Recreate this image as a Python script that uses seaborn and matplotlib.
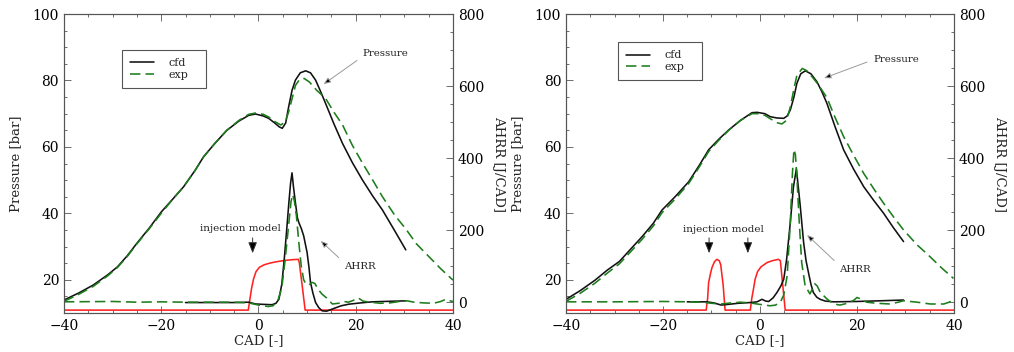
import numpy as np
import pandas as pd
import matplotlib
matplotlib.use("Agg")
import matplotlib.pyplot as plt
from matplotlib.ticker import MultipleLocator
import seaborn as sns

# ---------------- data: left panel ----------------
L_p_cfd_cad = [-40, -37, -34, -31, -29, -27, -25, -22.5, -20, -17.5, -15.4, -13, -11.3, -9, -6.5, -4, -2, -0.6,
               1, 2.1, 3.5, 4.3, 4.9, 5.6, 6.2, 6.9, 7.6, 8.6, 9.7, 10.7, 11.75, 12.8, 13.8, 15.5, 17.3, 19.3, 21.4,
               23.5, 25.5, 28, 30.3]
L_p_cfd = [13.9, 16.0, 18.4, 21.5, 23.9, 27.2, 31.0, 35.5, 40.4, 44.5, 48.0, 53.0, 57.0, 61.0, 65.0, 67.8, 69.5, 69.9,
           69.3, 68.6, 67.0, 66.0, 65.6, 67.2, 72.0, 77.0, 80.1, 82.3, 82.9, 82.3, 80.1, 76.6, 73.1, 67.0, 61.0, 55.3,
           50.0, 45.2, 41.0, 34.8, 29.0]
L_p_exp_cad = [-40, -37, -34, -31, -29, -27, -25, -22.5, -20, -17.5, -15.4, -13, -11.3, -9, -6.5, -4, -2, -0.6,
               1, 2.1, 3.5, 4.6, 5.5, 6.2, 7, 7.6, 8.5, 9.4, 10.5, 12, 13.8, 15.5, 17.3, 19.3, 21.4, 23.5, 25.5,
               28, 30.3, 32.5, 35.1, 37.5, 40]
L_p_exp = [13.5, 15.6, 18.0, 21.2, 23.7, 27.0, 30.8, 35.3, 40.0, 44.5, 48.0, 53.0, 57.0, 61.0, 65.0, 68.0, 69.8, 70.2,
           69.8, 69.0, 67.5, 66.6, 67.5, 70.5, 75.0, 78.5, 80.4, 80.6, 79.5, 77.0, 74.6, 70.5, 66.6, 60.5, 55.1, 50.0,
           45.0, 39.5, 35.3, 30.8, 26.9, 23.3, 19.9]
L_q_cfd_cad = [-15, -10, -5, -2, -0.6, 1, 2.8, 3.6, 4.2, 4.8, 5.3, 5.8, 6.25, 6.6, 6.9, 7.2, 7.6, 8.0, 8.3, 8.8, 9.3,
               10.0, 10.4, 10.7, 11.2, 11.75, 12.4, 13.1, 14, 15.2, 17, 18.6, 21, 23.4, 27, 30.3]
L_q_cfd = [-1, -1, -1, 0, -5, -6, -7, -3, 8, 50, 119, 200, 276, 330, 359, 320, 276, 235, 221, 205, 184,
           138, 95, 55, 25, -1, -15, -24, -25, -19, -10, -5.5, -2, 1, 2.5, 3.7]
L_q_exp_cad = [-40, -30, -25, -20, -15, -10, -5, -2, 0, 2, 3, 4, 4.8, 5.5, 6.25, 6.7, 7.05, 7.4, 7.8, 8.3, 8.8, 9.3,
               9.8, 10.4, 11, 11.6, 12.3, 13.1, 14, 15.2, 16.5, 17.5, 18.5, 19.5, 20.5, 21.5, 23, 25, 27, 29, 30.5,
               32, 34, 36, 37.5, 38.5, 39.3, 40]
L_q_exp = [1, 2, 0, 1, 0, 0, 0, -2, -8, -12, -10, 5, 40, 120, 220, 280, 299, 280, 240, 165, 100, 62,
           50, 48, 55, 52, 35, 22, 12, -5, -3, 2, 0, 5, 12, 3, 0, -3, -2, 2, 4,
           0, -2, -3, 2, 8, 4, 2]
L_inj_cad = [-40, -2.1, -1.8, -1.4, -1.0, -0.5, 0.2, 1.2, 2.5, 4, 5.5, 7, 8.2, 8.4, 9.0, 9.6, 40]
L_inj = [-22, -22, 5, 40, 65, 85, 97, 104, 109, 113, 116, 118, 119, 110, 45, -22, -22]

# ---------------- data: right panel ----------------
R_p_cfd_cad = [-40, -37, -34, -31.5, -29, -26.5, -24.3, -22, -20.2, -17.5, -14.7, -12.5, -10.6, -8.5, -6.45, -4,
               -1.65, -0.6, 1, 2.1, 3.5, 4.9, 5.6, 6.25, 7, 7.6, 8.4, 9.35, 10.5, 11.75, 12.8, 13.8, 15.5, 17.25,
               19.3, 21.4, 23.5, 25.5, 27.5, 29.6]
R_p_cfd = [14.1, 16.8, 19.9, 22.9, 25.5, 29.5, 33.0, 37.0, 41.0, 45.0, 49.5, 54.5, 59.1, 62.3, 65.1, 68.0,
           70.3, 70.4, 70.0, 69.1, 68.7, 68.6, 69.3, 71.1, 75.0, 79.1, 82.0, 82.9, 82.0, 79.6, 76.5, 73.1, 66.0, 59.1,
           53.3, 48.0, 43.8, 40.0, 35.7, 31.5]
R_p_exp_cad = [-40, -37, -34, -31.5, -29, -26.5, -24.3, -22, -20.2, -17.5, -14.7, -12.5, -10.6, -8.5, -6.45, -4,
               -1.65, -0.6, 1, 2.1, 3.5, 4.5, 5.5, 6.25, 7, 7.6, 8.7, 9.6, 10.8, 12, 13.8, 15.5, 17.25, 19.3, 21.4,
               23.5, 25.5, 27.5, 29.6, 32.4, 35.1, 37.5, 39.9]
R_p_exp = [13.5, 16.0, 19.0, 22.0, 24.8, 28.7, 32.2, 36.2, 40.2, 44.3, 49.0, 54.0, 58.6, 62.0, 65.0, 68.0,
           70.0, 70.0, 69.5, 68.5, 67.3, 66.9, 68.0, 72.0, 77.5, 81.5, 83.6, 83.0, 81.0, 78.8, 74.8, 68.8, 63.1, 57.5,
           52.0, 47.3, 43.0, 39.0, 35.0, 30.5, 26.9, 23.5, 20.4]
R_q_cfd_cad = [-15, -11, -9.5, -8, -6.5, -4.5, -2, -0.6, 0.4, 1.2, 1.8, 2.7, 3.5, 4.3, 4.9, 5.5, 6.25, 6.9, 7.5,
               7.9, 8.3, 9.0, 9.5, 10.0, 10.5, 11.0, 11.7, 12.4, 13.5, 15.2, 20, 25, 29.6]
R_q_cfd = [1, 1, -2, -8, -6, -3, -1, 1, 8, 3, 2, 12, 27, 45, 64, 120, 221, 320, 370,
           320, 267, 165, 115, 82, 50, 27, 14, 8, 3, 1, 2, 4, 6]
R_q_exp_cad = [-40, -30, -20, -15, -12, -10, -8, -6, -4, -2, -0.6, 1, 2.1, 3.2, 4.2, 4.9, 5.6, 6.25, 6.7, 7.0,
               7.3, 7.6, 8.1, 8.6, 9.3, 10.3, 11.3, 11.8, 12.4, 13.8, 15.2, 16.5, 18, 19.3, 20, 20.6, 22, 24,
               26.8, 28.5, 29.6, 31, 32.4, 35.1, 37.9, 39, 39.9]
R_q_exp = [1, 1, 2, 1, 0, -3, -5, -2, 0, -2, -5, -8, -10, -8, 0, 20, 73, 221, 360, 424,
           410, 350, 221, 110, 46, 23, 51, 45, 28, 9, -5, -8, -3, 5, 13, 10, 0, -3,
           -5, 0, 4, 2, 0, -5, -5, 0, 6]
R_inj_cad = [-40, -11.1, -10.8, -10.6, -10.2, -9.9, -9.4, -8.9, -8.4, -8.1, -7.6, -7.2, -2.0, -1.7, -1.3, -1.0,
             -0.5, 0.2, 1.45, 2.5, 3.8, 4.2, 5.2, 40]
R_inj = [-22, -22, 10, 54, 80, 96, 112, 119, 115, 104, 48, -22, -22, 10, 40, 64,
         85, 98, 110, 115, 119, 115, -22, -22]

series_labels = ["cfd", "exp"]
x_label = "CAD [-]"
y_label_left = "Pressure [bar]"
y_label_right = "AHRR [J/CAD]"

# ---------------- styling ----------------
sns.set_theme(style="ticks")
plt.rcParams["font.family"] = ["DejaVu Serif"]
plt.rcParams["mathtext.fontset"] = "dejavuserif"

BLACK = "#111111"
GREEN = "#1d7d1d"
RED = "#ff2222"
SPINE = "#555555"
ARROW_GRAY = "#9a9a9a"
TXT = "#222222"

fig = plt.figure(figsize=(10.14, 3.52), dpi=100)
axL = fig.add_axes([0.0631, 0.1108, 0.3836, 0.8494])
axR = fig.add_axes([0.5582, 0.1108, 0.3826, 0.8494])


def draw_panel(ax, p_cfd_x, p_cfd, p_exp_x, p_exp, q_cfd_x, q_cfd, q_exp_x, q_exp, inj_x, inj):
    ax2 = ax.twinx()
    sns.lineplot(x=p_cfd_x, y=p_cfd, ax=ax, color=BLACK, lw=1.15, estimator=None, sort=False,
                 label=series_labels[0], legend=False)
    sns.lineplot(x=p_exp_x, y=p_exp, ax=ax, color=GREEN, lw=1.15, estimator=None, sort=False,
                 label=series_labels[1], legend=False, linestyle=(0, (6.5, 3.2)))
    sns.lineplot(x=inj_x, y=inj, ax=ax2, color=RED, lw=1.15, estimator=None, sort=False, legend=False)
    sns.lineplot(x=q_cfd_x, y=q_cfd, ax=ax2, color=BLACK, lw=1.15, estimator=None, sort=False, legend=False)
    sns.lineplot(x=q_exp_x, y=q_exp, ax=ax2, color=GREEN, lw=1.15, estimator=None, sort=False, legend=False,
                 linestyle=(0, (6.5, 3.2)))

    ax.set_xlim(-40, 40)
    ax.set_ylim(10, 100)
    ax2.set_ylim(-30, 800)
    ax.xaxis.set_major_locator(MultipleLocator(20))
    ax.xaxis.set_minor_locator(MultipleLocator(5))
    ax.yaxis.set_major_locator(MultipleLocator(20))
    ax.yaxis.set_minor_locator(MultipleLocator(5))
    ax2.yaxis.set_major_locator(MultipleLocator(200))
    ax2.yaxis.set_minor_locator(MultipleLocator(50))
    ax.set_yticks([20, 40, 60, 80, 100])

    ax.tick_params(axis="x", which="both", direction="in", top=True, bottom=True, colors=SPINE,
                   labelcolor="black", labelsize=10, pad=4)
    ax.tick_params(axis="y", which="both", direction="in", left=True, right=False, colors=SPINE,
                   labelcolor="black", labelsize=10)
    ax2.tick_params(axis="y", which="both", direction="in", right=True, left=False, colors=SPINE,
                    labelcolor="black", labelsize=10)
    for a in (ax, ax2):
        a.tick_params(which="major", length=5, width=0.6)
        a.tick_params(which="minor", length=2.5, width=0.6)
        for s in a.spines.values():
            s.set_color(SPINE)
            s.set_linewidth(0.8)

    ax.set_xlabel(x_label, fontsize=9.5, labelpad=1)
    ax.set_ylabel(y_label_left, fontsize=9.5, labelpad=8)
    ax2.set_ylabel(y_label_right, fontsize=9.5, rotation=270, labelpad=15)
    return ax2


HEAD = "-|>,head_length=0.55,head_width=0.22"


def pointer(ax, text, xy, xytext, relpos, ha="left"):
    ax.annotate(text, xy=xy, xytext=xytext, xycoords="data", textcoords="data", fontsize=7.4, color=TXT,
                ha=ha, va="center",
                arrowprops=dict(arrowstyle=HEAD, fc="black", ec=ARROW_GRAY, lw=0.7,
                                shrinkA=2, shrinkB=0, relpos=relpos))


def down_arrow(ax, x):
    ax.annotate("", xy=(x, 28.0), xytext=(x, 32.6),
                arrowprops=dict(arrowstyle=HEAD, fc="black", ec="#333333", lw=0.7, shrinkA=0, shrinkB=0))


axL2 = draw_panel(axL, L_p_cfd_cad, L_p_cfd, L_p_exp_cad, L_p_exp, L_q_cfd_cad, L_q_cfd,
                  L_q_exp_cad, L_q_exp, L_inj_cad, L_inj)
axR2 = draw_panel(axR, R_p_cfd_cad, R_p_cfd, R_p_exp_cad, R_p_exp, R_q_cfd_cad, R_q_cfd,
                  R_q_exp_cad, R_q_exp, R_inj_cad, R_inj)

# legends: boxes of ~84 x 39 px
for ax, ax2, (x0, ytop, w) in ((axL, axL2, (0.149, 0.880, 84 / 389)), (axR, axR2, (0.134, 0.906, 84 / 388))):
    handles = ax.get_lines()[:2]
    h = 39 / 299
    leg = ax2.legend(handles=handles, labels=series_labels, loc="upper left",
                     bbox_to_anchor=(x0, ytop - h, w, h), mode="expand",
                     borderaxespad=0, frameon=True, fancybox=False, framealpha=1, edgecolor="#555555",
                     fontsize=8, handlelength=2.1, handletextpad=1.3, borderpad=0.75, labelspacing=0.15)
    leg.get_frame().set_linewidth(0.8)

# annotations, left panel (pressure coordinates)
pointer(axL, "Pressure", xy=(13.4, 78.9), xytext=(21.4, 88.0), relpos=(0.0, 0.2))
axL.text(-3.7, 35.3, "injection model", ha="center", va="center", fontsize=7.5, color=TXT)
down_arrow(axL, -1.2)
pointer(axL, "AHRR", xy=(12.8, 31.7), xytext=(17.6, 24.1), relpos=(0.0, 0.9))

# annotations, right panel
pointer(axR, "Pressure", xy=(13.2, 80.7), xytext=(23.3, 86.2), relpos=(0.0, 0.5))
axR.text(-7.6, 35.0, "injection model", ha="center", va="center", fontsize=7.5, color=TXT)
down_arrow(axR, -10.5)
down_arrow(axR, -2.5)
pointer(axR, "AHRR", xy=(9.7, 33.5), xytext=(16.4, 23.2), relpos=(0.0, 0.9))

fig.savefig("out.png", dpi=100)
